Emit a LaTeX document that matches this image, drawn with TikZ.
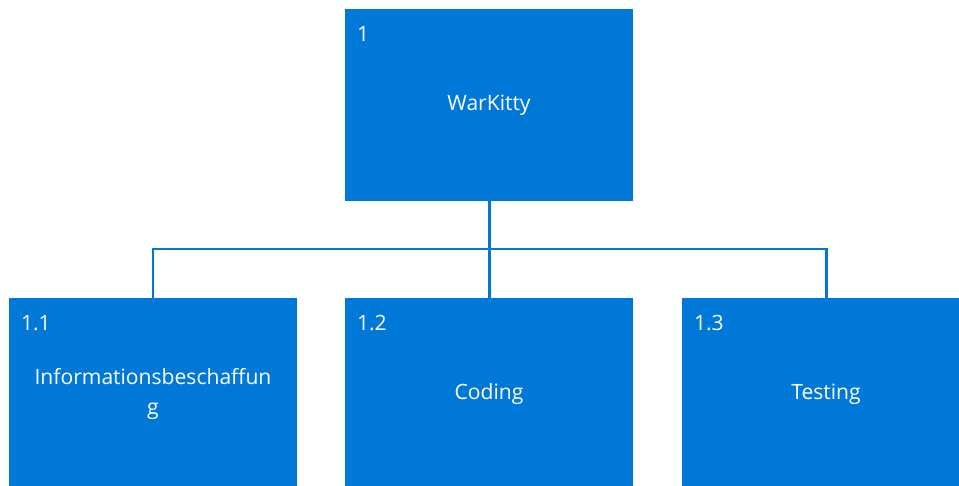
\documentclass[tikz,border=0pt]{standalone}
\usepackage{fontspec}
\setmainfont{Open Sans}
\definecolor{wbsblue}{HTML}{0078D7}

\tikzset{
  wbsbox/.style={fill=wbsblue, draw=none, text=white, align=center,
    minimum width=5.76cm, minimum height=3.84cm, inner sep=0pt},
  wbsnum/.style={text=white, anchor=north west, inner sep=0pt,
    xshift=0.24cm, yshift=-0.34cm},
  wbsline/.style={draw=wbsblue, line width=1.7pt}
}

\begin{document}
\begin{tikzpicture}[x=0.02cm, y=-0.02cm, font=\fontsize{12}{17}\selectfont]
  \clip (0,0) rectangle (959,486);

  % Boxen
  \node[wbsbox, label={[wbsnum]north west:1}] (root) at (489,105) {WarKitty};
  \node[wbsbox, label={[wbsnum]north west:1.1}] (info) at (153,394) {Informationsbeschaffun\\g};
  \node[wbsbox, label={[wbsnum]north west:1.2}] (coding) at (489,394) {Coding};
  \node[wbsbox, label={[wbsnum]north west:1.3}] (testing) at (826,394) {Testing};

  % Linien
  \coordinate (bar) at (489,249);
  \draw[wbsline] (root.south) -- (bar);
  \draw[wbsline] (info.north) |- (bar) -| (testing.north);
  \draw[wbsline] (bar) -- (coding.north);
\end{tikzpicture}
\end{document}
